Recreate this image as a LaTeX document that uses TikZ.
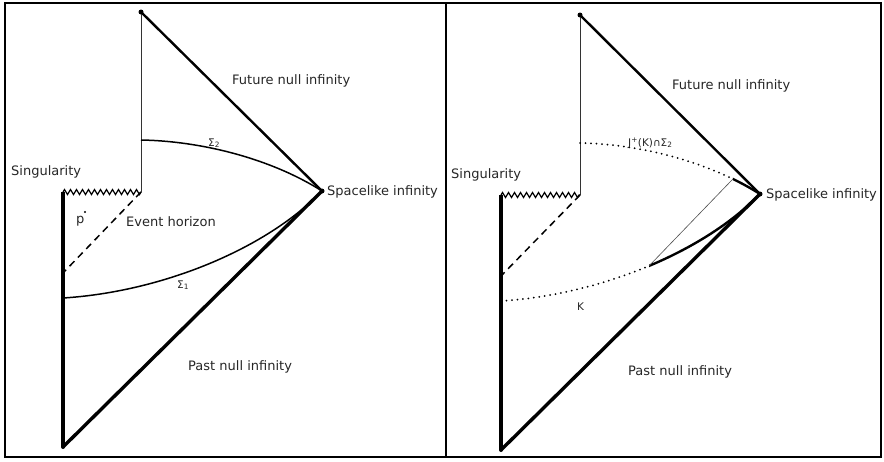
\documentclass[tikz,border=0pt]{standalone}
\usepackage{fontspec}
\setmainfont{DejaVu Sans}
\usetikzlibrary{decorations.pathmorphing}
\begin{document}
\begin{tikzpicture}[x=1pt,y=-1pt,
  font=\fontsize{13}{15}\selectfont,
  frame/.style={line width=1.5pt},
  thinl/.style={line width=1pt, black!80},
  nullf/.style={line width=2.4pt},
  nullp/.style={line width=3.4pt},
  slice/.style={line width=1.5pt},
  hor/.style={line width=1.5pt, dash pattern=on 7pt off 5pt},
  sing/.style={line width=1.2pt, decorate, decoration={zigzag, segment length=6pt, amplitude=2.5pt}},
  dots/.style={line width=2pt, line cap=round, dash pattern=on 0pt off 5.5pt},
  cut/.style={line width=2.4pt},
  fine/.style={line width=0.6pt, black!70},
  vtx/.style={circle, fill, inner sep=0pt, minimum size=5pt},
  lbl/.style={inner sep=0pt, text=black!85},
  small/.style={inner sep=0pt, text=black!85, font=\fontsize{10.5}{12}\selectfont}]
\useasboundingbox (0,0) rectangle (884,461);
% frames
\draw[frame] (5,3) rectangle (881,457);
\coordinate (dtop) at (446,3);
\coordinate (dbot) at (446,457);
\draw[frame] (dtop) -- (dbot);

% ---------------- left panel ----------------
\node[vtx] (lt) at (141,12) {};
\node[vtx] (ls) at (322,191) {};
\node[vtx, minimum size=4pt] (lb) at (63,447) {};
\coordinate (lz) at (63,192);
\coordinate (lc) at (141,192);
\coordinate (lh) at (63,273);
\coordinate (ls2) at (141,140);
\coordinate (ls1) at (63,298);
\draw[thinl] (lt.center) -- (lc);
\draw[sing] (lz) -- (lc);
\draw[nullp] (lz) -- (lb.center);
\draw[nullf] (lt.center) -- (ls.center);
\draw[nullp] (lb.center) -- (ls.center);
\draw[hor] (lc) -- (lh);
\draw[slice] (ls2) .. controls (200,141) and (270,158) .. (ls.center);
\draw[slice] (ls1) .. controls (160,292) and (265,250) .. (ls.center);
\node[lbl, anchor=base west] (lfut) at (232,84.5) {Future null infinity};
\node[lbl, anchor=base west] (lsng) at (11,175.5) {Singularity};
\node[lbl, anchor=base west] (lspc) at (327,195) {Spacelike infinity};
\node[lbl, anchor=base west] (levt) at (126,226) {Event horizon};
\node[lbl, anchor=base west] (lpst) at (188,370) {Past null infinity};
\node[lbl, anchor=base west] (lp) at (76,223) {p};
\fill (85,212) circle (1.1pt);
\node[small, anchor=base west] (lsig2) at (208,146) {Σ\textsubscript{2}};
\node[small, anchor=base west] (lsig1) at (177,288) {Σ\textsubscript{1}};

% ---------------- right panel ----------------
\node[vtx] (rt) at (580,15) {};
\node[vtx] (rs) at (760,194) {};
\node[vtx, minimum size=4pt] (rb) at (501,450) {};
\coordinate (rz) at (501,195);
\coordinate (rc) at (580,195);
\coordinate (rh) at (501,276);
\coordinate (rs2) at (580,143);
\coordinate (rs1) at (501,301);
\draw[thinl] (rt.center) -- (rc);
\draw[sing] (rz) -- (rc);
\draw[nullp] (rz) -- (rb.center);
\draw[nullf] (rt.center) -- (rs.center);
\draw[nullp] (rb.center) -- (rs.center);
\draw[hor] (rc) -- (rh);
\path (rs2) .. controls (638,144) and (708,161) .. (rs.center) coordinate[pos=0.835] (rj);
\path (rs1) .. controls (598,295) and (703,253) .. (rs.center) coordinate[pos=0.513] (rk);
\begin{scope}
  \clip (446,0) rectangle (rj |- rb);
  \draw[dots] (rs2) .. controls (638,144) and (708,161) .. (rs.center);
\end{scope}
\begin{scope}
  \clip (rj |- rt) rectangle (884,461);
  \draw[cut] (rs2) .. controls (638,144) and (708,161) .. (rs.center);
\end{scope}
\begin{scope}
  \clip (446,0) rectangle (rk |- rb);
  \draw[dots] (rs1) .. controls (598,295) and (703,253) .. (rs.center);
\end{scope}
\begin{scope}
  \clip (rk |- rt) rectangle (884,461);
  \draw[cut] (rs1) .. controls (598,295) and (703,253) .. (rs.center);
\end{scope}
\draw[fine] (rj) -- (rk);
\node[lbl, anchor=base west] (rfut) at (672,89) {Future null infinity};
\node[lbl, anchor=base west] (rsng) at (451,178) {Singularity};
\node[lbl, anchor=base west] (rspc) at (766,198) {Spacelike infinity};
\node[lbl, anchor=base west] (rpst) at (628,375) {Past null infinity};
\node[small, anchor=base west] (rjl) at (628,146) {J\textsuperscript{+}(K)∩Σ\textsubscript{2}};
\node[small, anchor=base west] (rkl) at (577,310) {K};
\end{tikzpicture}
\end{document}
